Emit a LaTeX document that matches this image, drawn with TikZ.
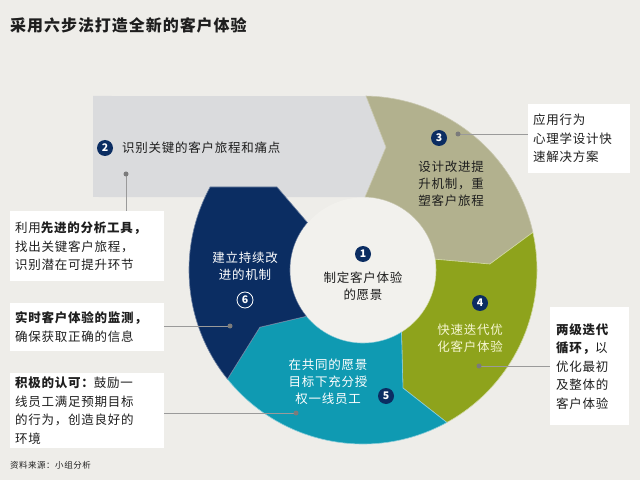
\documentclass[tikz,border=0pt]{standalone}
\usepackage{fontspec}
\setmainfont{Noto Sans CJK SC}[LetterSpace=6]
\usepackage{xcolor}
\usepackage{tikz}
\usetikzlibrary{positioning,calc}
\definecolor{bg}{HTML}{EEEDE9}
\definecolor{band}{HTML}{DADBDD}
\definecolor{khaki}{HTML}{B2B18E}
\definecolor{olive}{HTML}{8EA31C}
\definecolor{tealseg}{HTML}{0F9AB2}
\definecolor{navy}{HTML}{0B2D62}
\definecolor{core}{HTML}{F2F1ED}
\definecolor{ink}{HTML}{1E1E1E}
\definecolor{cream}{HTML}{F6F6D2}
\definecolor{leader}{HTML}{9A9A9A}
\newcommand\bxfont{\fontsize{12.5}{18.5}\selectfont}
\newcommand\lbfont{\fontsize{12.5}{17}\selectfont}

\begin{document}
\begin{tikzpicture}[x=1pt,y=1pt,
  box/.style={fill=white,inner ysep=0pt,inner xsep=5pt,align=left,text=ink,font=\bxfont},
  num/.style={circle,fill=navy,text=white,inner sep=0pt,minimum size=16pt,font=\bfseries\fontsize{10.5}{10.5}\selectfont},
  lead/.style={draw=leader,line width=0.8pt},
  lbl/.style={font=\lbfont,align=center,inner sep=0pt},
  seg/.style={line width=0.6pt}]
  \fill[bg] (0,0) rectangle (640,480);
  \useasboundingbox (0,0) rectangle (640,480);
  \node[anchor=west,inner sep=0pt,text=ink,font=\bfseries\fontsize{16}{16}\selectfont] (title) at (10,455) {采用六步法打造全新的客户体验};
  \node[anchor=west,inner sep=0pt,text=ink,font=\fontsize{8.5}{8.5}\selectfont] (src) at (10,15) {资料来源：小组分析};
  \begin{scope}[shift={(363,210)}]
    \fill[band] (-270,73) -- (88.4:73) -- (79.4:125) -- (89:174) -- (-270,174) -- cycle;
    \filldraw[seg,fill=khaki,draw=khaki!70!white] (89:174) arc[start angle=89,end angle=12.5,radius=174pt]
      -- (2.7:127) -- (8.5:73) arc[start angle=8.5,end angle=88.4,radius=73pt] -- (79.4:125) -- cycle;
    \filldraw[seg,fill=olive,draw=olive!40!white] (12.5:174) arc[start angle=12.5,end angle=-61.2,radius=174pt]
      -- (-71.3:124.6) -- (-58.2:73) arc[start angle=-58.2,end angle=8.5,radius=73pt] -- (2.7:127) -- cycle;
    \filldraw[seg,fill=tealseg,draw=tealseg!50!white] (-61.2:174) arc[start angle=-61.2,end angle=-141.2,radius=174pt]
      -- (-151:118) -- (-140.7:73) arc[start angle=-140.7,end angle=-58.2,radius=73pt] -- (-71.3:124.6) -- cycle;
    \filldraw[seg,fill=navy,draw=navy!60!white] (-141.2:174) arc[start angle=-141.2,end angle=-208.5,radius=174pt]
      -- (-86,83) -- (139.5:73) arc[start angle=139.5,end angle=219.3,radius=73pt] -- (-151:118) -- cycle;
    \fill[core] (0,0) circle[radius=72.5pt];
  \end{scope}
  \node[box,text width=144pt,minimum height=70pt,anchor=north west] (ana) at (10,269) {利用{\bfseries 先进的分析工具，}\\找出关键客户旅程，\\识别潜在可提升环节};
  \node[box,text width=144pt,minimum height=48pt,anchor=north west] (mon) at (10,177) {{\bfseries 实时客户体验的监测，}\\确保获取正确的信息};
  \node[box,text width=144pt,minimum height=75pt,anchor=north west] (rec) at (10,107) {{\bfseries 积极的认可：}鼓励一\\线员工满足预期目标\\的行为，创造良好的\\环境};
  \node[box,text width=92pt,minimum height=69pt,anchor=north west] (psy) at (528,376) {应用行为\\心理学设计快\\速解决方案};
  \node[box,text width=67pt,inner xsep=6pt,minimum height=118pt,anchor=north west] (loop) at (550,173) {{\bfseries 两级迭代}\\{\bfseries 循环，}以\\优化最初\\及整体的\\客户体验};
  \coordinate (d2) at (126,306);
  \coordinate (d6) at (230,154);
  \coordinate (d5) at (296,67);
  \coordinate (d3) at (458,346);
  \coordinate (d4) at (479,114);
  \draw[lead] (d2) -- (d2 |- ana.north);
  \draw[lead] (d6) -- (d6 -| mon.east);
  \draw[lead] (d5) -- (d5 -| rec.east);
  \draw[lead] (d3) -- (d3 -| psy.west);
  \draw[lead] (d4) -- (d4 -| loop.west);
  \foreach \d in {d2,d6,d5,d3,d4}
    \fill[leader!80!black] (\d) circle[radius=2.5pt];
  \node[num] (n1) at (363,226) {1};
  \node[num] (n2) at (105,332) {2};
  \node[num] (n3) at (439,342) {3};
  \node[num] (n4) at (480,177) {4};
  \node[num] (n5) at (386,84) {5};
  \node[num,draw=white,line width=0.8pt] (n6) at (245,180) {6};
  \node[lbl,text=ink] (t1) at (363,194) {制定客户体验\\的愿景};
  \node[lbl,text=ink,anchor=west] (t2) at (122,332) {识别关键的客户旅程和痛点};
  \node[lbl,text=ink,align=left] (t3) at (451,296) {设计改进提\\升机制，重\\塑客户旅程};
  \node[lbl,text=cream,align=left] (t4) at (470,142) {快速迭代优\\化客户体验};
  \node[lbl,text=white] (t5) at (328,98) {在共同的愿景\\目标下充分授\\权一线员工};
  \node[lbl,text=white] (t6) at (245,213.5) {建立持续改\\进的机制};
\end{tikzpicture}
\end{document}
